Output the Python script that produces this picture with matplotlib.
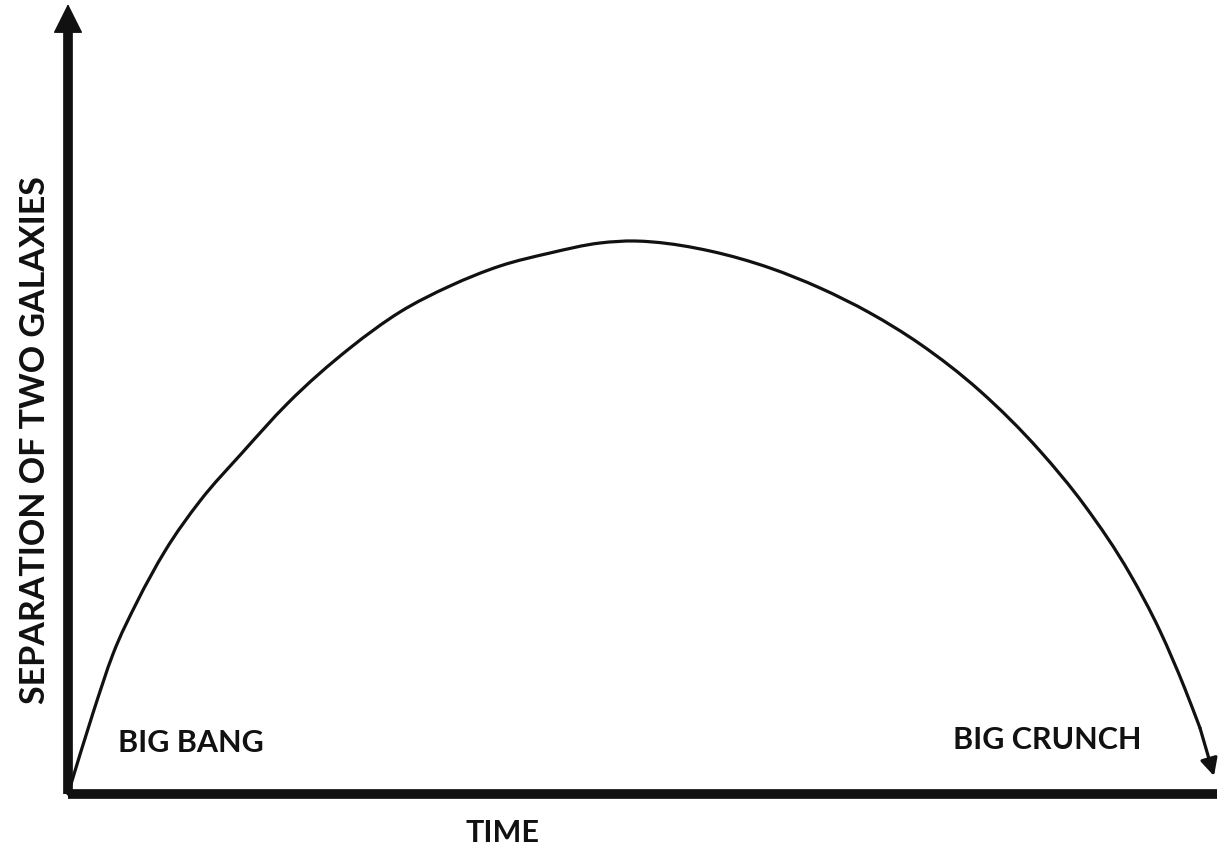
import matplotlib
matplotlib.use("Agg")
import matplotlib.pyplot as plt
import numpy as np
from matplotlib.path import Path
from matplotlib.patches import PathPatch

# curve: time and separation (arbitrary units, origin at Big Bang)
time = [0, 25, 45, 69, 97, 132, 174, 219, 282, 332, 382, 432, 482, 532, 567,
        585, 642, 702, 752, 802, 852, 912, 972, 1017, 1062, 1092, 1117, 1132, 1146]
separation = [0, 81, 140, 192, 243, 293, 341, 390, 446, 482, 508, 528, 541, 551, 553,
              552, 543, 526, 506, 481, 450, 403, 343, 288, 220, 163, 105, 66, 18]

x_label = "TIME"
y_label = "SEPARATION OF TWO GALAXIES"
start_label = "BIG BANG"
end_label = "BIG CRUNCH"

ink = "#111111"
fnt = ["Lato", "DejaVu Sans"]


def smooth_path(xs, ys):
    # cubic hermite through the points (slopes from neighbouring secants),
    # drawn as bezier segments
    x = np.asarray(xs, float)
    y = np.asarray(ys, float)
    h = np.diff(x)
    d = np.diff(y) / h
    m = np.empty_like(x)
    m[0], m[-1] = d[0], d[-1]
    m[1:-1] = (d[:-1] * h[1:] + d[1:] * h[:-1]) / (h[:-1] + h[1:])
    verts = [(x[0], y[0])]
    codes = [Path.MOVETO]
    for i in range(len(x) - 1):
        verts += [(x[i] + h[i] / 3, y[i] + m[i] * h[i] / 3),
                  (x[i + 1] - h[i] / 3, y[i + 1] - m[i + 1] * h[i] / 3),
                  (x[i + 1], y[i + 1])]
        codes += [Path.CURVE4] * 3
    return Path(verts, codes)


fig = plt.figure(figsize=(12.25, 8.53), dpi=100)
ax = fig.add_axes([0, 0, 1, 1])
ax.set_xlim(-68, 1157)
ax.set_ylim(-58, 795)
ax.axis("off")

# axes drawn by hand
x_end = 1149
y_end = 790
ax.plot([0, x_end], [0, 0], color=ink, lw=7, solid_capstyle="butt")
ax.plot([0, 0], [0, y_end - 20], color=ink, lw=7, solid_capstyle="butt")
ax.annotate("", xy=(0, y_end), xytext=(0, y_end - 30),
            arrowprops=dict(arrowstyle="-|>", color=ink, lw=1, mutation_scale=48,
                            shrinkA=0, shrinkB=0))

# separation curve with arrow at the end
ax.add_patch(PathPatch(smooth_path(time[:-1], separation[:-1]), fill=False,
                       edgecolor=ink, lw=2.3, capstyle="round"))
ax.annotate("", xy=(time[-1], separation[-1]), xytext=(time[-2], separation[-2]),
            arrowprops=dict(arrowstyle="-|>", color=ink, lw=2.3, mutation_scale=26,
                            shrinkA=0, shrinkB=0))

ax.text(50, 52, start_label, fontsize=22, family=fnt, weight="bold", color=ink,
        va="center", ha="left")
ax.text(885, 55, end_label, fontsize=22, family=fnt, weight="bold", color=ink,
        va="center", ha="left")
ax.text(434, -38, x_label, fontsize=22, family=fnt, weight="bold", color=ink,
        va="center", ha="center")
ax.text(-33, 355, y_label, fontsize=24.5, family=fnt, weight="bold", color=ink,
        va="center", ha="center", rotation=90)

fig.savefig("out.png", dpi=100, facecolor="white")
